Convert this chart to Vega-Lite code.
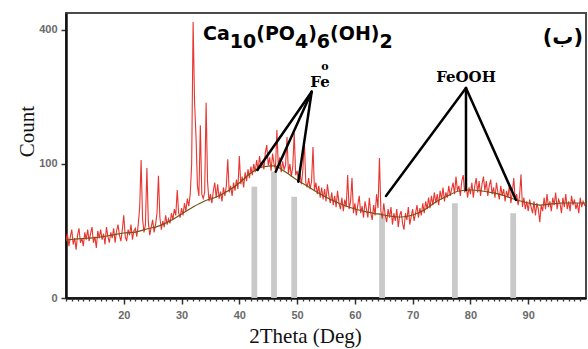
{
 "$schema": "https://vega.github.io/schema/vega-lite/v6.json",
 "width": 520, "height": 285,
 "autosize": {"type": "none"},
 "padding": {"left": 66, "top": 13, "right": 2, "bottom": 51},
 "background": "white",
 "config": {"view": {"stroke": "#4a4a4a", "strokeWidth": 2}},
 "resolve": {"axis": {"x": "independent"}},
 "datasets": {
  "xrd": [
{"theta":10,"count":18},{"theta":10.25,"count":23},{"theta":10.5,"count":15},{"theta":10.75,"count":21},{"theta":11,"count":26},{"theta":11.25,"count":16},{"theta":11.5,"count":20},{"theta":11.75,"count":13},
{"theta":12,"count":22},{"theta":12.25,"count":27},{"theta":12.5,"count":17},{"theta":12.75,"count":20},{"theta":13,"count":15},{"theta":13.25,"count":24},{"theta":13.5,"count":19},{"theta":13.75,"count":26},
{"theta":14,"count":18},{"theta":14.25,"count":23},{"theta":14.5,"count":28},{"theta":14.75,"count":17},{"theta":15,"count":21},{"theta":15.25,"count":14},{"theta":15.5,"count":25},{"theta":15.75,"count":20},
{"theta":16,"count":26},{"theta":16.25,"count":19},{"theta":16.5,"count":23},{"theta":16.75,"count":16},{"theta":17,"count":28},{"theta":17.25,"count":21},{"theta":17.5,"count":17},{"theta":17.75,"count":24},
{"theta":18,"count":20},{"theta":18.25,"count":27},{"theta":18.5,"count":17},{"theta":18.75,"count":25},{"theta":19,"count":30},{"theta":19.25,"count":22},{"theta":19.5,"count":18},{"theta":19.75,"count":26},
{"theta":20,"count":38},{"theta":20.25,"count":21},{"theta":20.5,"count":18},{"theta":20.75,"count":26},{"theta":21,"count":22},{"theta":21.25,"count":30},{"theta":21.5,"count":19},{"theta":21.75,"count":25},
{"theta":22,"count":27},{"theta":22.25,"count":21},{"theta":22.5,"count":30},{"theta":22.75,"count":45},{"theta":23,"count":106},{"theta":23.25,"count":35},{"theta":23.5,"count":24},{"theta":23.75,"count":30},
{"theta":24,"count":94},{"theta":24.25,"count":32},{"theta":24.5,"count":22},{"theta":24.75,"count":28},{"theta":25,"count":34},{"theta":25.25,"count":24},{"theta":25.5,"count":30},{"theta":25.75,"count":40},
{"theta":26,"count":83},{"theta":26.25,"count":36},{"theta":26.5,"count":26},{"theta":26.75,"count":33},{"theta":27,"count":28},{"theta":27.25,"count":38},{"theta":27.5,"count":30},{"theta":27.75,"count":35},
{"theta":28,"count":31},{"theta":28.25,"count":40},{"theta":28.5,"count":34},{"theta":28.75,"count":44},{"theta":29,"count":38},{"theta":29.25,"count":65},{"theta":29.5,"count":40},{"theta":29.75,"count":36},
{"theta":30,"count":45},{"theta":30.25,"count":38},{"theta":30.5,"count":50},{"theta":30.75,"count":42},{"theta":31,"count":55},{"theta":31.25,"count":47},{"theta":31.5,"count":60},{"theta":31.75,"count":100},
{"theta":32,"count":424},{"theta":32.25,"count":214},{"theta":32.5,"count":145},{"theta":32.75,"count":70},{"theta":33,"count":58},{"theta":33.25,"count":166},{"theta":33.5,"count":60},{"theta":33.75,"count":55},
{"theta":34,"count":62},{"theta":34.25,"count":212},{"theta":34.5,"count":75},{"theta":34.75,"count":52},{"theta":35,"count":60},{"theta":35.25,"count":50},{"theta":35.5,"count":64},{"theta":35.75,"count":74},
{"theta":36,"count":56},{"theta":36.25,"count":72},{"theta":36.5,"count":55},{"theta":36.75,"count":63},{"theta":37,"count":52},{"theta":37.25,"count":68},{"theta":37.5,"count":58},{"theta":37.75,"count":70},
{"theta":38,"count":107},{"theta":38.25,"count":62},{"theta":38.5,"count":70},{"theta":38.75,"count":58},{"theta":39,"count":74},{"theta":39.25,"count":64},{"theta":39.5,"count":78},{"theta":39.75,"count":66},
{"theta":40,"count":112},{"theta":40.25,"count":72},{"theta":40.5,"count":82},{"theta":40.75,"count":68},{"theta":41,"count":88},{"theta":41.25,"count":76},{"theta":41.5,"count":92},{"theta":41.75,"count":80},
{"theta":42,"count":96},{"theta":42.25,"count":84},{"theta":42.5,"count":100},{"theta":42.75,"count":88},{"theta":43,"count":106},{"theta":43.25,"count":90},{"theta":43.5,"count":112},{"theta":43.75,"count":94},
{"theta":44,"count":104},{"theta":44.25,"count":92},{"theta":44.5,"count":118},{"theta":44.75,"count":130},{"theta":45,"count":98},{"theta":45.25,"count":110},{"theta":45.5,"count":90},{"theta":45.75,"count":116},
{"theta":46,"count":100},{"theta":46.25,"count":92},{"theta":46.5,"count":157},{"theta":46.75,"count":96},{"theta":47,"count":110},{"theta":47.25,"count":88},{"theta":47.5,"count":104},{"theta":47.75,"count":92},
{"theta":48,"count":98},{"theta":48.25,"count":144},{"theta":48.5,"count":86},{"theta":48.75,"count":100},{"theta":49,"count":82},{"theta":49.25,"count":96},{"theta":49.5,"count":152},{"theta":49.75,"count":84},
{"theta":50,"count":90},{"theta":50.25,"count":76},{"theta":50.5,"count":86},{"theta":50.75,"count":72},{"theta":51,"count":92},{"theta":51.25,"count":139},{"theta":51.5,"count":74},{"theta":51.75,"count":68},
{"theta":52,"count":80},{"theta":52.25,"count":66},{"theta":52.5,"count":76},{"theta":52.75,"count":127},{"theta":53,"count":64},{"theta":53.25,"count":74},{"theta":53.5,"count":60},{"theta":53.75,"count":70},
{"theta":54,"count":56},{"theta":54.25,"count":68},{"theta":54.5,"count":54},{"theta":54.75,"count":66},{"theta":55,"count":52},{"theta":55.25,"count":72},{"theta":55.5,"count":58},{"theta":55.75,"count":50},
{"theta":56,"count":62},{"theta":56.25,"count":48},{"theta":56.5,"count":58},{"theta":56.75,"count":46},{"theta":57,"count":64},{"theta":57.25,"count":50},{"theta":57.5,"count":44},{"theta":57.75,"count":56},
{"theta":58,"count":42},{"theta":58.25,"count":54},{"theta":58.5,"count":46},{"theta":58.75,"count":84},{"theta":59,"count":44},{"theta":59.25,"count":52},{"theta":59.5,"count":80},{"theta":59.75,"count":40},
{"theta":60,"count":50},{"theta":60.25,"count":38},{"theta":60.5,"count":48},{"theta":60.75,"count":58},{"theta":61,"count":40},{"theta":61.25,"count":47},{"theta":61.5,"count":36},{"theta":61.75,"count":52},
{"theta":62,"count":44},{"theta":62.25,"count":36},{"theta":62.5,"count":56},{"theta":62.75,"count":40},{"theta":63,"count":34},{"theta":63.25,"count":48},{"theta":63.5,"count":38},{"theta":63.75,"count":60},
{"theta":64,"count":45},{"theta":64.25,"count":109},{"theta":64.5,"count":42},{"theta":64.75,"count":35},{"theta":65,"count":50},{"theta":65.25,"count":38},{"theta":65.5,"count":32},{"theta":65.75,"count":44},
{"theta":66,"count":36},{"theta":66.25,"count":46},{"theta":66.5,"count":30},{"theta":66.75,"count":40},{"theta":67,"count":33},{"theta":67.25,"count":44},{"theta":67.5,"count":28},{"theta":67.75,"count":38},
{"theta":68,"count":42},{"theta":68.25,"count":31},{"theta":68.5,"count":26},{"theta":68.75,"count":40},{"theta":69,"count":34},{"theta":69.25,"count":46},{"theta":69.5,"count":30},{"theta":69.75,"count":37},
{"theta":70,"count":44},{"theta":70.25,"count":33},{"theta":70.5,"count":40},{"theta":70.75,"count":48},{"theta":71,"count":36},{"theta":71.25,"count":45},{"theta":71.5,"count":38},{"theta":71.75,"count":50},
{"theta":72,"count":40},{"theta":72.25,"count":52},{"theta":72.5,"count":44},{"theta":72.75,"count":56},{"theta":73,"count":45},{"theta":73.25,"count":58},{"theta":73.5,"count":48},{"theta":73.75,"count":62},
{"theta":74,"count":50},{"theta":74.25,"count":60},{"theta":74.5,"count":48},{"theta":74.75,"count":64},{"theta":75,"count":54},{"theta":75.25,"count":68},{"theta":75.5,"count":52},{"theta":75.75,"count":62},
{"theta":76,"count":56},{"theta":76.25,"count":70},{"theta":76.5,"count":58},{"theta":76.75,"count":66},{"theta":77,"count":74},{"theta":77.25,"count":60},{"theta":77.5,"count":82},{"theta":77.75,"count":64},
{"theta":78,"count":70},{"theta":78.25,"count":58},{"theta":78.5,"count":76},{"theta":78.75,"count":84},{"theta":79,"count":62},{"theta":79.25,"count":72},{"theta":79.5,"count":56},{"theta":79.75,"count":68},
{"theta":80,"count":60},{"theta":80.25,"count":74},{"theta":80.5,"count":56},{"theta":80.75,"count":70},{"theta":81,"count":80},{"theta":81.25,"count":62},{"theta":81.5,"count":76},{"theta":81.75,"count":58},
{"theta":82,"count":72},{"theta":82.25,"count":82},{"theta":82.5,"count":64},{"theta":82.75,"count":76},{"theta":83,"count":58},{"theta":83.25,"count":70},{"theta":83.5,"count":78},{"theta":83.75,"count":60},
{"theta":84,"count":68},{"theta":84.25,"count":56},{"theta":84.5,"count":74},{"theta":84.75,"count":62},{"theta":85,"count":54},{"theta":85.25,"count":70},{"theta":85.5,"count":58},{"theta":85.75,"count":66},
{"theta":86,"count":52},{"theta":86.25,"count":64},{"theta":86.5,"count":56},{"theta":86.75,"count":72},{"theta":87,"count":50},{"theta":87.25,"count":62},{"theta":87.5,"count":80},{"theta":87.75,"count":54},
{"theta":88,"count":60},{"theta":88.25,"count":48},{"theta":88.5,"count":58},{"theta":88.75,"count":85},{"theta":89,"count":46},{"theta":89.25,"count":56},{"theta":89.5,"count":44},{"theta":89.75,"count":52},
{"theta":90,"count":42},{"theta":90.25,"count":54},{"theta":90.5,"count":46},{"theta":90.75,"count":40},{"theta":91,"count":52},{"theta":91.25,"count":38},{"theta":91.5,"count":50},{"theta":91.75,"count":44},
{"theta":92,"count":32},{"theta":92.25,"count":48},{"theta":92.5,"count":42},{"theta":92.75,"count":56},{"theta":93,"count":44},{"theta":93.25,"count":60},{"theta":93.5,"count":46},{"theta":93.75,"count":52},
{"theta":94,"count":42},{"theta":94.25,"count":56},{"theta":94.5,"count":48},{"theta":94.75,"count":62},{"theta":95,"count":44},{"theta":95.25,"count":54},{"theta":95.5,"count":50},{"theta":95.75,"count":40},
{"theta":96,"count":56},{"theta":96.25,"count":46},{"theta":96.5,"count":60},{"theta":96.75,"count":44},{"theta":97,"count":52},{"theta":97.25,"count":42},{"theta":97.5,"count":58},{"theta":97.75,"count":48},
{"theta":98,"count":54},{"theta":98.25,"count":44},{"theta":98.5,"count":50},{"theta":98.75,"count":40},{"theta":99,"count":56},{"theta":99.25,"count":46},{"theta":99.5,"count":52},{"theta":99.75,"count":48},
{"theta":100,"count":50}
  ],
  "background": [
{"theta":10,"count":18.7},{"theta":12,"count":19.4},{"theta":14,"count":20.0},{"theta":16,"count":20.7},{"theta":18,"count":22.1},{"theta":20,"count":23.5},{"theta":22,"count":24.2},{"theta":24,"count":26.5},{"theta":26,"count":28.8},{"theta":28,"count":33.0},{"theta":30,"count":39.3},{"theta":32,"count":46.1},{"theta":34,"count":52.4},{"theta":36,"count":56.8},{"theta":38,"count":63.7},{"theta":40,"count":73.6},{"theta":42,"count":86.9},{"theta":44,"count":95.5},{"theta":46,"count":97.0},{"theta":48,"count":88.3},{"theta":50,"count":77.5},{"theta":52,"count":68.6},{"theta":54,"count":60.2},{"theta":56,"count":53.4},{"theta":58,"count":48.1},{"theta":60,"count":44.1},{"theta":62,"count":41.2},{"theta":64,"count":39.3},{"theta":66,"count":37.4},{"theta":68,"count":36.5},{"theta":70,"count":38.3},{"theta":72,"count":43.1},{"theta":74,"count":51.3},{"theta":76,"count":57.9},{"theta":78,"count":63.7},{"theta":80,"count":64.9},{"theta":82,"count":63.7},{"theta":84,"count":61.4},{"theta":86,"count":57.9},{"theta":88,"count":53.4},{"theta":90,"count":50.2},{"theta":92,"count":48.1},{"theta":94,"count":49.2},{"theta":96,"count":50.2},{"theta":98,"count":50.2},{"theta":100,"count":50.2}
  ],
  "bands": [
{"theta":42.1,"hi":43.1,"count":69},{"theta":45.5,"hi":46.5,"count":89},{"theta":49.0,"hi":50.0,"count":57},{"theta":64.2,"hi":65.2,"count":40},{"theta":76.8,"hi":77.8,"count":50},{"theta":86.9,"hi":87.9,"count":40}
  ],
  "leaders": [
{"theta":52.52,"count":236.8,"theta2":43.11,"count2":91.2},{"theta":52.52,"count":236.8,"theta2":46.29,"count2":88.8},{"theta":52.52,"count":236.8,"theta2":50.21,"count2":75.3},
{"theta":79.23,"count":245.4,"theta2":65.38,"count2":57.9},{"theta":79.23,"count":245.4,"theta2":79.23,"count2":64.9},{"theta":79.23,"count":245.4,"theta2":87.88,"count2":53.4}
  ],
  "formula": [
{"label":"Ca","theta":33.71,"count":370.4},{"label":"10","theta":38.35,"count":347.8},{"label":"(PO","theta":42.92,"count":370.4},{"label":"4","theta":49.63,"count":347.8},{"label":")","theta":51.92,"count":370.4},{"label":"6","theta":53.42,"count":347.8},{"label":"(OH)","theta":55.71,"count":370.4},{"label":"2","theta":64.26,"count":347.8}
  ]
 },
 "layer": [
  {
   "data": {"name": "bands"},
   "mark": {"type": "rect", "color": "#c9c9c9"},
   "encoding": {
    "x": {"field": "theta", "type": "quantitative", "scale": {"domain": [10, 100], "nice": false, "zero": false},
     "axis": {"title": "2Theta (Deg)", "grid": false, "orient": "bottom",
      "values": [20, 30, 40, 50, 60, 70, 80, 90],
      "labelFlush": false,
      "labelFont": "Liberation Sans", "labelFontSize": 11, "labelFontWeight": "bold", "labelColor": "#6a6a6a", "labelPadding": 5,
      "tickSize": 6, "tickColor": "#333333", "tickWidth": 1.5,
      "domainColor": "#111111", "domainWidth": 2.5,
      "titleFont": "Liberation Serif", "titleFontSize": 21, "titleFontWeight": "normal", "titleColor": "#111111",
      "titleX": 239, "titleY": 44, "titleBaseline": "alphabetic", "titleAlign": "center"
     }},
    "x2": {"field": "hi"},
    "y": {"field": "count", "type": "quantitative", "scale": {"type": "sqrt", "domain": [0, 452], "nice": false},
     "axis": {"title": "Count", "grid": false, "values": [0, 100, 400], "labelFlush": false,
      "labelFont": "Liberation Sans", "labelFontSize": 11, "labelFontWeight": "bold", "labelColor": "#6a6a6a", "labelPadding": 4,
      "tickSize": 5, "tickColor": "#333333", "tickWidth": 1.5,
      "domainColor": "#111111", "domainWidth": 2.5,
      "titleFont": "Liberation Serif", "titleFontSize": 21, "titleFontWeight": "normal", "titleColor": "#111111",
      "titleX": -33, "titleY": 118, "titleAngle": 270, "titleBaseline": "alphabetic", "titleAlign": "center"
     }},
    "y2": {"datum": 0}
   }
  },
  {
   "data": {"name": "xrd"},
   "mark": {"type": "line", "color": "#e8352f", "strokeWidth": 1.1, "clip": true},
   "encoding": {
    "x": {"field": "theta", "type": "quantitative",
     "axis": {"orient": "bottom", "title": null, "labels": false, "domain": false, "grid": false,
      "values": [10,11,12,13,14,15,16,17,18,19,21,22,23,24,25,26,27,28,29,31,32,33,34,35,36,37,38,39,41,42,43,44,45,46,47,48,49,51,52,53,54,55,56,57,58,59,61,62,63,64,65,66,67,68,69,71,72,73,74,75,76,77,78,79,81,82,83,84,85,86,87,88,89,91,92,93,94,95,96,97,98,99],
      "tickSize": 3, "tickColor": "#333333", "tickWidth": 1.3}},
    "y": {"field": "count", "type": "quantitative"}
   }
  },
  {
   "data": {"name": "background"},
   "mark": {"type": "line", "color": "#6f5518", "strokeWidth": 1.2, "interpolate": "monotone"},
   "encoding": {
    "x": {"field": "theta", "type": "quantitative", "axis": null},
    "y": {"field": "count", "type": "quantitative"}
   }
  },
  {
   "data": {"name": "leaders"},
   "mark": {"type": "rule", "color": "#000000", "strokeWidth": 2.5, "strokeCap": "round"},
   "encoding": {
    "x": {"field": "theta", "type": "quantitative", "axis": null},
    "y": {"field": "count", "type": "quantitative"},
    "x2": {"field": "theta2"},
    "y2": {"field": "count2"}
   }
  },
  {
   "data": {"name": "formula"},
   "mark": {"type": "text", "font": "DejaVu Sans", "fontSize": 19, "fontWeight": "bold", "align": "left", "baseline": "alphabetic", "color": "#000000"},
   "encoding": {
    "x": {"field": "theta", "type": "quantitative", "axis": null},
    "y": {"field": "count", "type": "quantitative"},
    "text": {"field": "label"}
   }
  },
  {
   "data": {"values": [{"label": "Fe", "theta": 53.96, "count": 247.7, "size": 15}, {"label": "FeOOH", "theta": 79.23, "count": 259.6, "size": 15}, {"label": "o", "theta": 54.83, "count": 290, "size": 11}]},
   "mark": {"type": "text", "font": "DejaVu Serif", "fontWeight": "bold", "align": "center", "baseline": "alphabetic", "color": "#000000"},
   "encoding": {
    "x": {"field": "theta", "type": "quantitative", "axis": null},
    "y": {"field": "count", "type": "quantitative"},
    "text": {"field": "label"},
    "size": {"field": "size", "type": "quantitative", "scale": null}
   }
  },
  {
   "data": {"values": [{"label": "(ب)", "theta": 99.48, "count": 359}]},
   "mark": {"type": "text", "font": "DejaVu Sans", "fontSize": 21, "fontWeight": "bold", "align": "right", "baseline": "alphabetic", "color": "#000000"},
   "encoding": {
    "x": {"field": "theta", "type": "quantitative", "axis": null},
    "y": {"field": "count", "type": "quantitative"},
    "text": {"field": "label"}
   }
  }
 ]
}
